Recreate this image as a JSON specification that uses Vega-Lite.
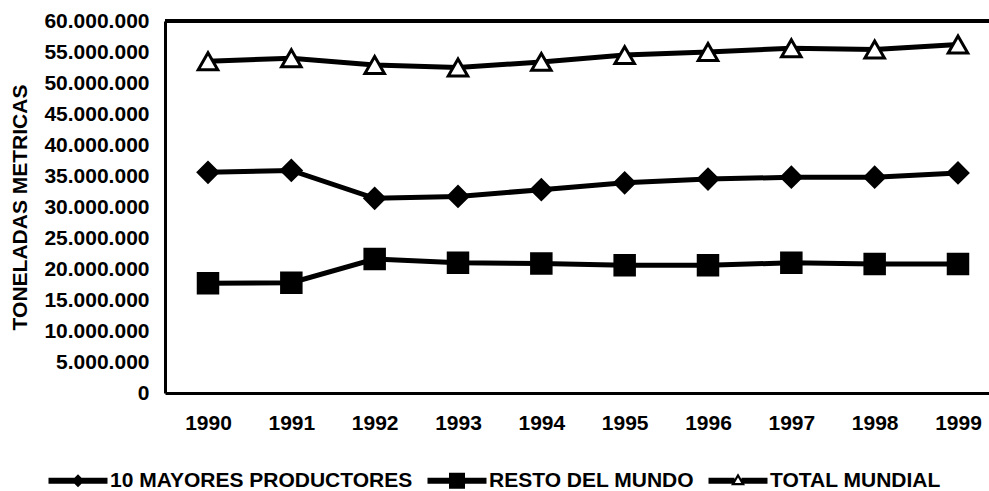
{
  "$schema": "https://vega.github.io/schema/vega-lite/v6.json",
  "autosize": {"type": "none"},
  "padding": {"left": 165, "top": 21, "right": 0, "bottom": 98},
  "width": 824,
  "height": 372,
  "background": "white",
  "config": {
    "view": {"stroke": null},
    "font": "Liberation Sans",
    "axis": {"grid": false, "ticks": false, "domainColor": "black", "domainWidth": 3, "labelColor": "black", "labelFont": "Liberation Sans", "labelFontWeight": "bold", "titleColor": "black", "titleFont": "Liberation Sans", "titleFontWeight": "bold"}
  },
  "data": {
    "values": [
      {"year": 1990, "serie": "10 MAYORES PRODUCTORES", "value": 35600000},
      {"year": 1991, "serie": "10 MAYORES PRODUCTORES", "value": 35900000},
      {"year": 1992, "serie": "10 MAYORES PRODUCTORES", "value": 31400000},
      {"year": 1993, "serie": "10 MAYORES PRODUCTORES", "value": 31700000},
      {"year": 1994, "serie": "10 MAYORES PRODUCTORES", "value": 32800000},
      {"year": 1995, "serie": "10 MAYORES PRODUCTORES", "value": 33900000},
      {"year": 1996, "serie": "10 MAYORES PRODUCTORES", "value": 34500000},
      {"year": 1997, "serie": "10 MAYORES PRODUCTORES", "value": 34800000},
      {"year": 1998, "serie": "10 MAYORES PRODUCTORES", "value": 34800000},
      {"year": 1999, "serie": "10 MAYORES PRODUCTORES", "value": 35500000},
      {"year": 1990, "serie": "RESTO DEL MUNDO", "value": 17700000},
      {"year": 1991, "serie": "RESTO DEL MUNDO", "value": 17800000},
      {"year": 1992, "serie": "RESTO DEL MUNDO", "value": 21600000},
      {"year": 1993, "serie": "RESTO DEL MUNDO", "value": 21000000},
      {"year": 1994, "serie": "RESTO DEL MUNDO", "value": 20900000},
      {"year": 1995, "serie": "RESTO DEL MUNDO", "value": 20600000},
      {"year": 1996, "serie": "RESTO DEL MUNDO", "value": 20600000},
      {"year": 1997, "serie": "RESTO DEL MUNDO", "value": 21000000},
      {"year": 1998, "serie": "RESTO DEL MUNDO", "value": 20800000},
      {"year": 1999, "serie": "RESTO DEL MUNDO", "value": 20800000},
      {"year": 1990, "serie": "TOTAL MUNDIAL", "value": 53500000},
      {"year": 1991, "serie": "TOTAL MUNDIAL", "value": 54000000},
      {"year": 1992, "serie": "TOTAL MUNDIAL", "value": 52900000},
      {"year": 1993, "serie": "TOTAL MUNDIAL", "value": 52500000},
      {"year": 1994, "serie": "TOTAL MUNDIAL", "value": 53400000},
      {"year": 1995, "serie": "TOTAL MUNDIAL", "value": 54500000},
      {"year": 1996, "serie": "TOTAL MUNDIAL", "value": 55000000},
      {"year": 1997, "serie": "TOTAL MUNDIAL", "value": 55600000},
      {"year": 1998, "serie": "TOTAL MUNDIAL", "value": 55400000},
      {"year": 1999, "serie": "TOTAL MUNDIAL", "value": 56200000}
    ]
  },
  "encoding": {
    "x": {
      "field": "year", "type": "quantitative",
      "scale": {"domain": [1989.484, 1999.372], "nice": false, "zero": false},
      "axis": {"title": null, "values": [1990, 1991, 1992, 1993, 1994, 1995, 1996, 1997, 1998, 1999], "format": "d", "labelFontSize": 21, "labelPadding": 19, "labelFlush": false, "labelOverlap": false}
    },
    "y": {
      "field": "value", "type": "quantitative",
      "scale": {"domain": [0, 60000000], "nice": false},
      "axis": {"title": "TONELADAS METRICAS", "titleFontSize": 21, "titlePadding": 13, "values": [0, 5000000, 10000000, 15000000, 20000000, 25000000, 30000000, 35000000, 40000000, 45000000, 50000000, 55000000, 60000000], "labelExpr": "replace(format(datum.value, ','), regexp(',', 'g'), '.')", "labelFontSize": 21, "labelPadding": 16, "labelOverlap": false}
    }
  },
  "layer": [
    {
      "mark": {"type": "rule", "color": "black", "strokeWidth": 3},
      "encoding": {"x": null, "y": {"datum": 60000000, "type": "quantitative"}}
    },
    {
      "mark": {"type": "line", "color": "black", "strokeWidth": 5},
      "encoding": {"detail": {"field": "serie"}}
    },
    {
      "mark": {"type": "point", "filled": true, "stroke": "black", "strokeWidth": 3, "opacity": 1, "size": 380},
      "encoding": {
        "fill": {"condition": {"test": "datum.serie == 'TOTAL MUNDIAL'", "value": "white"}, "value": "black"},
        "shape": {
          "field": "serie", "type": "nominal",
          "scale": {"domain": ["10 MAYORES PRODUCTORES", "RESTO DEL MUNDO", "TOTAL MUNDIAL"], "range": ["diamond", "square", "triangle-up"]},
          "legend": null
        }
      }
    },
    {
      "transform": [{"filter": "false"}],
      "mark": {"type": "point", "filled": true, "color": "black", "opacity": 1},
      "encoding": {
        "shape": {
          "field": "serie", "type": "nominal",
          "scale": {"domain": ["10 MAYORES PRODUCTORES", "RESTO DEL MUNDO", "TOTAL MUNDIAL"], "range": [
            "M-1,-0.3H4.9V0.3H-1Z M1.3,0L1.95,-0.65L2.6,0L1.95,0.65Z",
            "M-1,-0.3H4.9V0.3H-1Z M1.15,-0.8H2.75V0.8H1.15Z",
            "M-1,-0.3H1.6V0.3H-1Z M2.3,-0.3H4.9V0.3H2.3Z M1.95,-0.75L2.65,0.45L1.25,0.45Z M1.95,-0.314L1.633,0.23L2.267,0.23Z"
          ]},
          "legend": {
            "title": null, "orient": "none", "direction": "horizontal", "legendX": -117, "legendY": 449,
            "padding": 0, "columnPadding": 14, "labelFont": "Liberation Sans", "labelFontWeight": "bold", "labelFontSize": 21, "labelColor": "black", "labelOffset": 41, "labelLimit": 0, "symbolSize": 400, "symbolStrokeWidth": 0, "symbolFillColor": "black", "symbolOpacity": 1
          }
        }
      }
    }
  ],
  "resolve": {"scale": {"shape": "independent"}}
}
